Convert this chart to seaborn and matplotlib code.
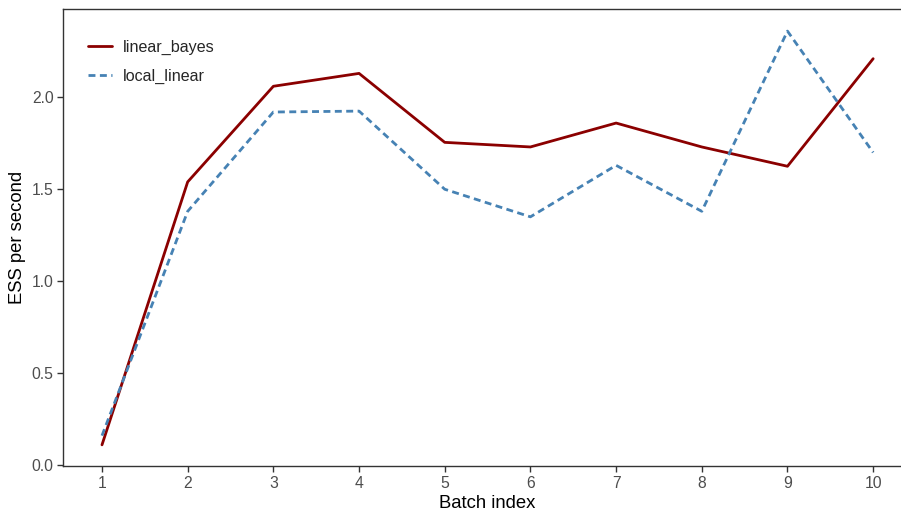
import pandas as pd
import seaborn as sns
import matplotlib
matplotlib.use('Agg')
import matplotlib.pyplot as plt

batch = [1, 2, 3, 4, 5, 6, 7, 8, 9, 10]
linear_bayes = [0.11, 1.54, 2.06, 2.13, 1.755, 1.73, 1.86, 1.73, 1.625, 2.21]
local_linear = [0.16, 1.38, 1.92, 1.925, 1.50, 1.35, 1.63, 1.38, 2.36, 1.70]
methods = ["linear_bayes", "local_linear"]
palette = {"linear_bayes": "#8B0000", "local_linear": "#4682B4"}

df = pd.DataFrame({
    "batch": batch * 2,
    "ess": linear_bayes + local_linear,
    "method": [methods[0]] * len(batch) + [methods[1]] * len(batch),
})

sns.set_style("white")
plt.rcParams['font.family'] = ['Liberation Sans', 'DejaVu Sans']

fig = plt.figure(figsize=(9.01, 5.14), dpi=100)
ax = fig.add_axes([0.0704, 0.0934, 0.9415, 0.889])

sns.lineplot(data=df, x="batch", y="ess", hue="method", style="method",
             palette=palette, dashes={"linear_bayes": "", "local_linear": (2.5, 1.6)},
             linewidth=2, ax=ax)

ax.set_xlim(0.55, 10.45)
ax.set_ylim(-0.005, 2.48)
ax.set_xticks(batch)
ax.set_yticks([0.0, 0.5, 1.0, 1.5, 2.0])
ax.set_yticklabels(["0.0", "0.5", "1.0", "1.5", "2.0"])
ax.tick_params(axis="both", colors="#333333", labelcolor="#4D4D4D", labelsize=11.3,
               length=4, width=1, direction="out", left=True, bottom=True, pad=3)
for s in ax.spines.values():
    s.set_color("#333333")
    s.set_linewidth(1)
ax.set_xlabel("Batch index", fontsize=13.3, color="black", labelpad=3)
ax.set_ylabel("ESS per second", fontsize=13.3, color="black", labelpad=4)

leg = ax.legend(loc="upper left", bbox_to_anchor=(0.006, 0.975), frameon=False,
                fontsize=11.6, handlelength=1.5, handletextpad=0.7,
                labelspacing=0.85, borderaxespad=0.8)
leg.set_title(None)

fig.savefig("out.png", dpi=100)
